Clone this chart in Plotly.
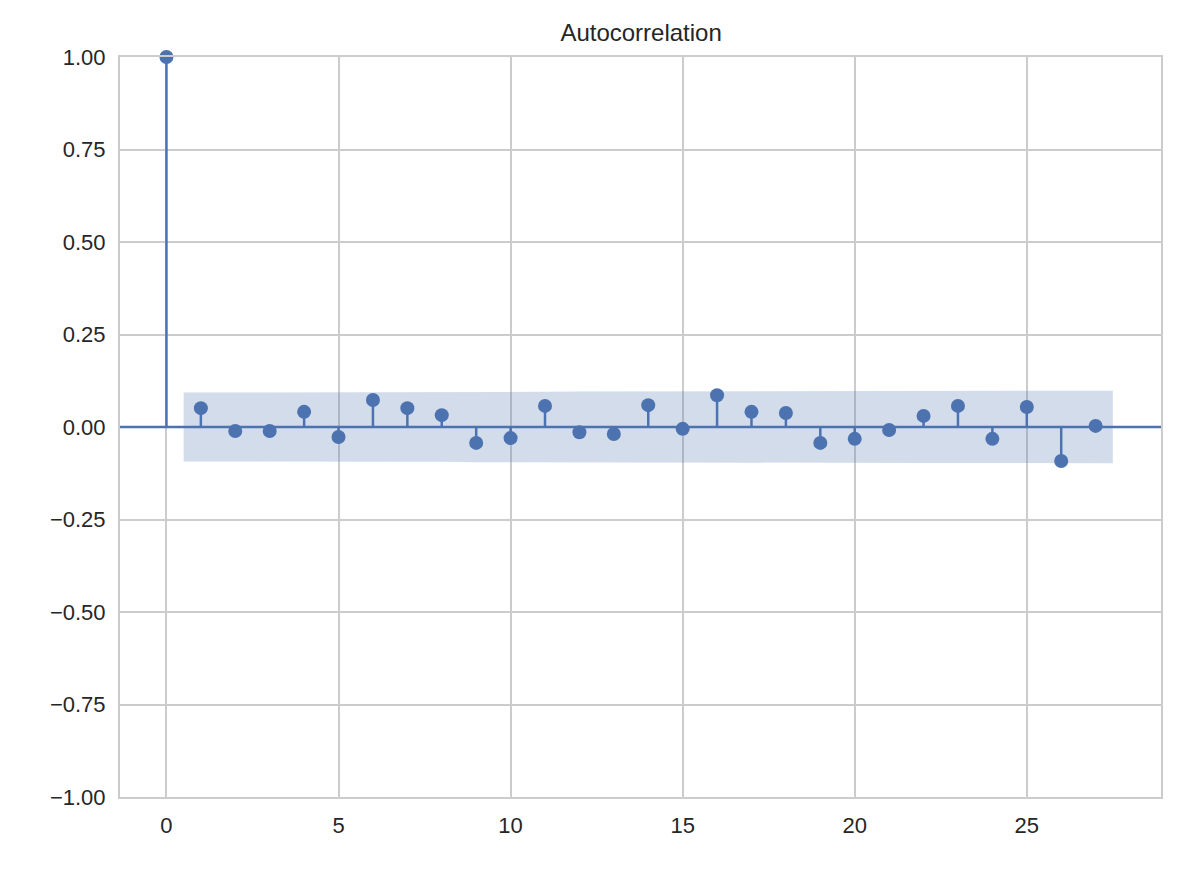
import plotly.graph_objects as go

lags = list(range(28))
acf = [1.0, 0.051, -0.011, -0.011, 0.041, -0.027, 0.073, 0.051, 0.032, -0.043, -0.030,
       0.057, -0.014, -0.019, 0.059, -0.005, 0.086, 0.041, 0.038, -0.043, -0.032,
       -0.008, 0.030, 0.057, -0.032, 0.054, -0.092, 0.003]
band = [0.093, 0.093, 0.093, 0.093, 0.093, 0.094, 0.094, 0.094, 0.095, 0.095,
        0.095, 0.096, 0.096, 0.096, 0.096, 0.096, 0.096, 0.097, 0.097, 0.097,
        0.097, 0.097, 0.097, 0.097, 0.097, 0.097, 0.098]
band_x = [0.5] + list(range(2, 27)) + [27.5]

C = "#4C72B0"
fig = go.Figure()
fig.add_trace(go.Scatter(x=band_x + band_x[::-1], y=band + [-b for b in band[::-1]],
                         fill="toself", fillcolor="rgba(76,114,176,0.25)",
                         line=dict(width=0), mode="lines", hoverinfo="skip"))
fig.add_hline(y=0, line=dict(color=C, width=2.5))
sx, sy = [], []
for l, v in zip(lags, acf):
    sx += [l, l, None]; sy += [0, v, None]
fig.add_trace(go.Scatter(x=sx, y=sy, mode="lines", line=dict(color=C, width=2.5)))
fig.add_trace(go.Scatter(x=lags, y=acf, mode="markers", marker=dict(color=C, size=14), cliponaxis=False))

ax = dict(showgrid=True, gridcolor="#cccccc", gridwidth=1.5, zeroline=False,
          showline=True, linecolor="#cccccc", linewidth=2, mirror=True,
          ticks="", tickfont=dict(size=22, color="#262626"))
fig.update_layout(
    width=1179, height=869, showlegend=False,
    plot_bgcolor="white", paper_bgcolor="white",
    font=dict(family="Liberation Sans, Arial", color="#262626"),
    margin=dict(l=112, r=26, t=49, b=80),
    title=dict(text="Autocorrelation", x=0.537, xanchor="center", y=0.972, yanchor="middle",
               font=dict(size=24, color="#262626")),
    xaxis=dict(ax, range=[-1.35, 28.9], tickvals=[0, 5, 10, 15, 20, 25], ticklabelstandoff=8),
    yaxis=dict(ax, range=[-1, 1], tickvals=[-1, -0.75, -0.5, -0.25, 0, 0.25, 0.5, 0.75, 1],
               ticktext=["−1.00", "−0.75", "−0.50", "−0.25", "0.00", "0.25", "0.50", "0.75", "1.00"],
               ticklabelstandoff=8),
)
fig.write_html("out.html")
